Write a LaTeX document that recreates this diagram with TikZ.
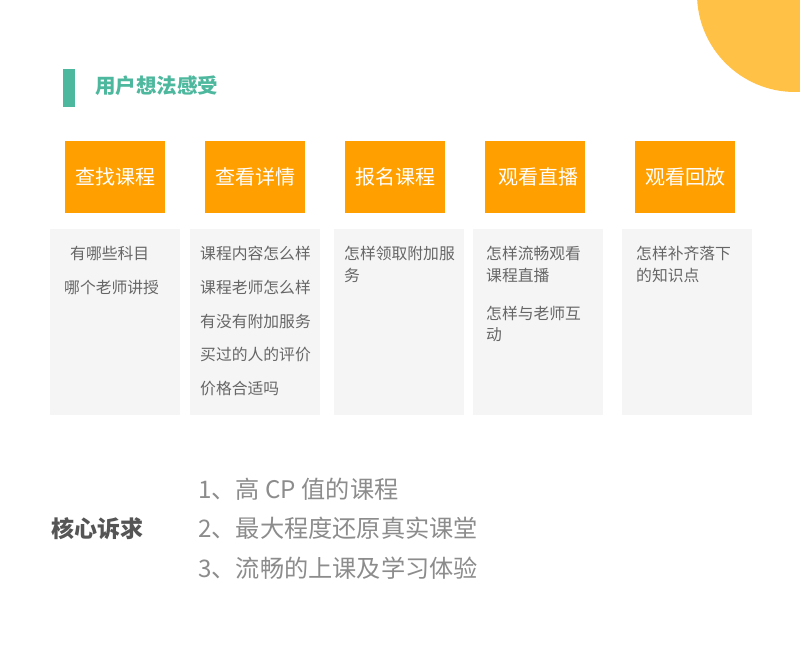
\documentclass[tikz,border=0pt]{standalone}
\usepackage{fontspec}
\setmainfont{Noto Sans CJK SC}
\definecolor{circ}{HTML}{FFC247}
\definecolor{teal}{HTML}{4DB89D}
\definecolor{orng}{HTML}{FF9F00}
\definecolor{pale}{HTML}{F5F5F5}
\definecolor{txt}{HTML}{666666}
\definecolor{head}{HTML}{555555}
\definecolor{lst}{HTML}{8C8C8C}
\tikzset{
  stage/.style={fill=orng, draw=none, minimum width=100pt, minimum height=72pt, inner sep=0pt, text=white, font=\fontsize{20}{24}\selectfont},
  panel/.style={fill=pale, draw=none, minimum width=130pt, minimum height=186pt, inner sep=0pt},
  q/.style={anchor=west, inner sep=0pt, text=txt, font=\fontsize{15.8}{18}\selectfont},
  li/.style={anchor=west, inner sep=0pt, text=lst, font=\fontsize{24.2}{28}\selectfont},
}
\begin{document}
\begin{tikzpicture}[x=1pt,y=-1pt]
\useasboundingbox (0,0) rectangle (800,667);
\fill[white] (0,0) rectangle (800,667);
\begin{scope}
\clip (0,0) rectangle (800,667);
\fill[circ] (795,-6) circle (98);
\end{scope}
% title
\fill[teal] (63,69) rectangle (75,107);
\node[anchor=west, inner sep=0pt, text=teal, font=\bfseries\fontsize{20.5}{24}\selectfont] (title) at (95,86) {用户想法感受};
% stages
\node[stage] (s1) at (115,177) {查找课程};
\node[stage] (s2) at (255,177) {查看详情};
\node[stage] (s3) at (395,177) {报名课程};
\node[stage] (s4) at (535,177) {\hspace{6pt}观看直播};
\node[stage] (s5) at (685,177) {观看回放};
% panels
\node[panel] (p1) at (115,322) {};
\node[panel] (p2) at (255,322) {};
\node[panel] (p3) at (399,322) {};
\node[panel] (p4) at (538,322) {};
\node[panel] (p5) at (687,322) {};
% panel texts
\node[q] (a1) at (70,253) {有哪些科目};
\node[q] (a2) at (64,287) {哪个老师讲授};
\node[q] (b1) at (200,253) {课程内容怎么样};
\node[q] (b2) at (200,287) {课程老师怎么样};
\node[q] (b3) at (200,321) {有没有附加服务};
\node[q] (b4) at (200,355) {买过的人的评价};
\node[q] (b5) at (200,389) {价格合适吗};
\node[q] (c1) at (344,253) {怎样领取附加服};
\node[q] (c2) at (344,275) {务};
\node[q] (d1) at (486,253) {怎样流畅观看};
\node[q] (d2) at (486,275) {课程直播};
\node[q] (d3) at (486,313) {怎样与老师互};
\node[q] (d4) at (486,335) {动};
\node[q] (e1) at (636,253) {怎样补齐落下};
\node[q] (e2) at (636,275) {的知识点};
% core
\node[anchor=west, inner sep=0pt, text=head, font=\bfseries\fontsize{23}{26}\selectfont] (core) at (51,529) {核心诉求};
\node[li] (l1) at (198,489) {1、高 CP 值的课程};
\node[li] (l2) at (198,528) {2、最大程度还原真实课堂};
\node[li] (l3) at (198,568) {3、流畅的上课及学习体验};
\end{tikzpicture}
\end{document}
